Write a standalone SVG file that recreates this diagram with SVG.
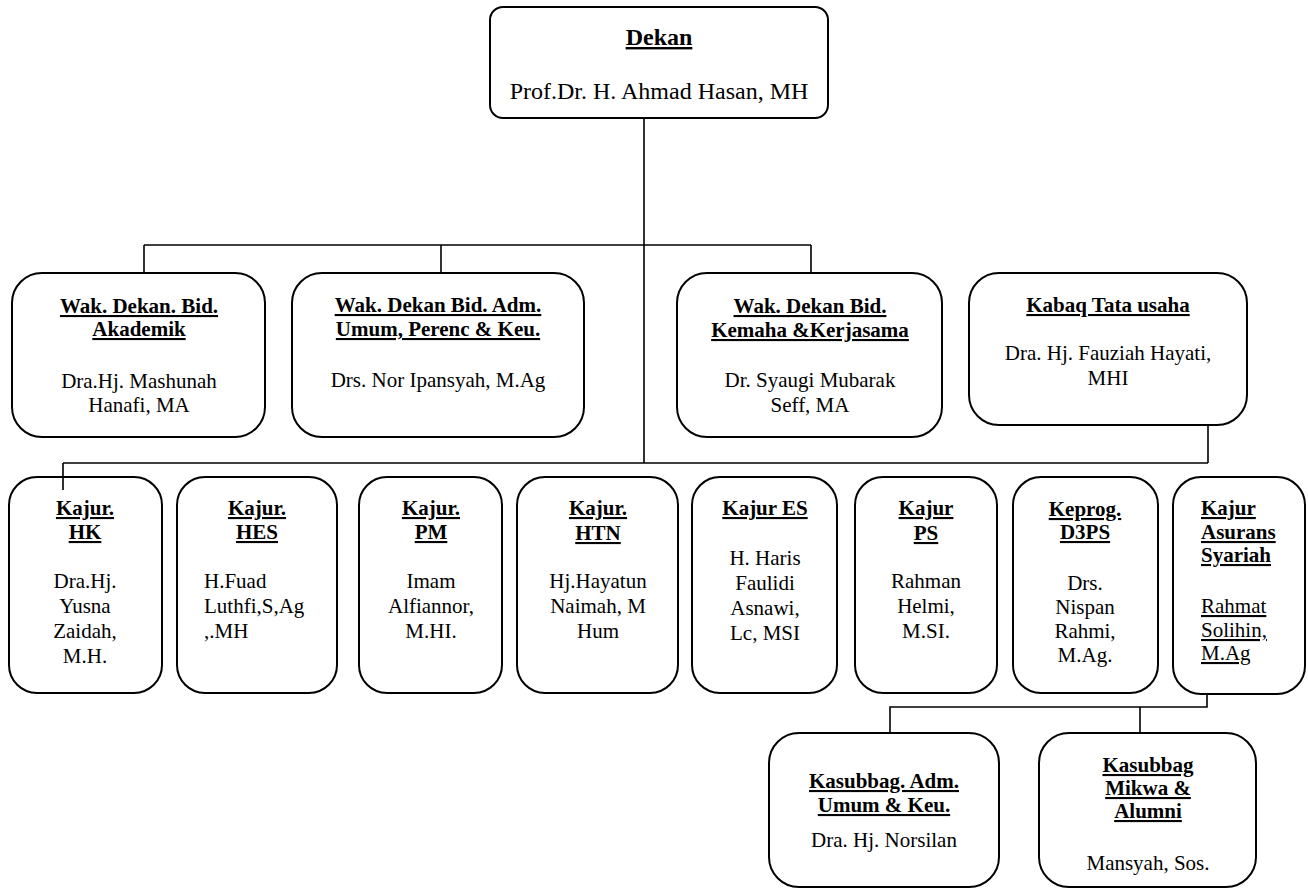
<svg xmlns="http://www.w3.org/2000/svg" width="1308" height="890" viewBox="0 0 1308 890">
<style>
.box{fill:none;stroke:#000;stroke-width:2}
.ln{fill:none;stroke:#000;stroke-width:1.6}
text{font-family:"Liberation Serif","Times New Roman",serif;font-size:21px;fill:#000;text-anchor:middle}
.t{font-weight:bold;text-decoration:underline}
.l{text-anchor:start}
.u{text-decoration:underline}
</style>
<rect width="1308" height="890" fill="#fff"/>
<g id="connectors">
<path class="ln" d="M644 118V463M144 245H811M144 245V273M441 245V273M811 245V273M63 463H1208M63 463V490M1208 425V463M1207 694V707H890V733M1140 707V733"/>
</g>
<g id="dekan">
<rect class="box" x="490" y="7" width="338" height="111" rx="13"/>
<text class="t" x="659" y="45" style="font-size:24px">Dekan</text>
<text x="659" y="99" style="font-size:24px">Prof.Dr. H. Ahmad Hasan, MH</text>
</g>
<g id="wd1">
<rect class="box" x="12" y="273" width="253" height="164" rx="30"/>
<text class="t" x="139" y="313">Wak. Dekan. Bid.</text>
<text class="t" x="139" y="336">Akademik</text>
<text x="139" y="388">Dra.Hj. Mashunah</text>
<text x="139" y="412">Hanafi, MA</text>
</g>
<g id="wd2">
<rect class="box" x="292" y="273" width="292" height="164" rx="30"/>
<text class="t" x="438" y="312">Wak. Dekan Bid. Adm.</text>
<text class="t" x="438" y="336">Umum, Perenc &amp; Keu.</text>
<text x="438" y="387">Drs. Nor Ipansyah, M.Ag</text>
</g>
<g id="wd3">
<rect class="box" x="677" y="273" width="265" height="164" rx="30"/>
<text class="t" x="810" y="313">Wak. Dekan Bid.</text>
<text class="t" x="810" y="337">Kemaha &amp;Kerjasama</text>
<text x="810" y="387">Dr. Syaugi Mubarak</text>
<text x="810" y="412">Seff, MA</text>
</g>
<g id="kabaq">
<rect class="box" x="969" y="273" width="278" height="152" rx="30"/>
<text class="t" x="1108" y="312">Kabaq Tata usaha</text>
<text x="1108" y="360">Dra. Hj. Fauziah Hayati,</text>
<text x="1108" y="385">MHI</text>
</g>
<g id="hk">
<rect class="box" x="9" y="477" width="153" height="216" rx="28"/>
<text class="t" x="85" y="515">Kajur.</text>
<text class="t" x="85" y="539">HK</text>
<text x="85" y="588">Dra.Hj.</text>
<text x="85" y="613">Yusna</text>
<text x="85" y="638">Zaidah,</text>
<text x="85" y="663">M.H.</text>
</g>
<g id="hes">
<rect class="box" x="177" y="477" width="160" height="216" rx="28"/>
<text class="t" x="257" y="515">Kajur.</text>
<text class="t" x="257" y="539">HES</text>
<text class="l" x="204" y="588">H.Fuad</text>
<text class="l" x="204" y="613">Luthfi,S,Ag</text>
<text class="l" x="204" y="638">,.MH</text>
</g>
<g id="pm">
<rect class="box" x="359" y="477" width="143" height="216" rx="28"/>
<text class="t" x="431" y="515">Kajur.</text>
<text class="t" x="431" y="539">PM</text>
<text x="431" y="588">Imam</text>
<text x="431" y="613">Alfiannor,</text>
<text x="431" y="638">M.HI.</text>
</g>
<g id="htn">
<rect class="box" x="517" y="477" width="161" height="216" rx="28"/>
<text class="t" x="598" y="515">Kajur.</text>
<text class="t" x="598" y="540">HTN</text>
<text x="598" y="588">Hj.Hayatun</text>
<text x="598" y="613">Naimah, M</text>
<text x="598" y="638">Hum</text>
</g>
<g id="es">
<rect class="box" x="692" y="477" width="145" height="216" rx="28"/>
<text class="t" x="765" y="515">Kajur ES</text>
<text x="765" y="565">H. Haris</text>
<text x="765" y="590">Faulidi</text>
<text x="765" y="615">Asnawi,</text>
<text x="765" y="640">Lc, MSI</text>
</g>
<g id="ps">
<rect class="box" x="855" y="477" width="142" height="216" rx="28"/>
<text class="t" x="926" y="515">Kajur</text>
<text class="t" x="926" y="540">PS</text>
<text x="926" y="588">Rahman</text>
<text x="926" y="613">Helmi,</text>
<text x="926" y="638">M.SI.</text>
</g>
<g id="keprog">
<rect class="box" x="1013" y="477" width="145" height="216" rx="28"/>
<text class="t" x="1085" y="516">Keprog.</text>
<text class="t" x="1085" y="539">D3PS</text>
<text x="1085" y="590">Drs.</text>
<text x="1085" y="614">Nispan</text>
<text x="1085" y="638">Rahmi,</text>
<text x="1085" y="662">M.Ag.</text>
</g>
<g id="asurans">
<rect class="box" x="1173" y="477" width="132" height="217" rx="28"/>
<text class="t l" x="1201" y="515">Kajur</text>
<text class="t l" x="1201" y="539">Asurans</text>
<text class="t l" x="1201" y="562">Syariah</text>
<text class="u l" x="1201" y="613">Rahmat</text>
<text class="u l" x="1201" y="637">Solihin,</text>
<text class="u l" x="1201" y="660">M.Ag</text>
</g>
<g id="kasubbag-adm">
<rect class="box" x="769" y="733" width="230" height="154" rx="30"/>
<text class="t" x="884" y="788">Kasubbag. Adm.</text>
<text class="t" x="884" y="812">Umum &amp; Keu.</text>
<text x="884" y="847">Dra. Hj. Norsilan</text>
</g>
<g id="kasubbag-mikwa">
<rect class="box" x="1039" y="733" width="217" height="154" rx="30"/>
<text class="t" x="1148" y="772">Kasubbag</text>
<text class="t" x="1148" y="795">Mikwa &amp;</text>
<text class="t" x="1148" y="818">Alumni</text>
<text x="1148" y="870">Mansyah, Sos.</text>
</g>
</svg>
